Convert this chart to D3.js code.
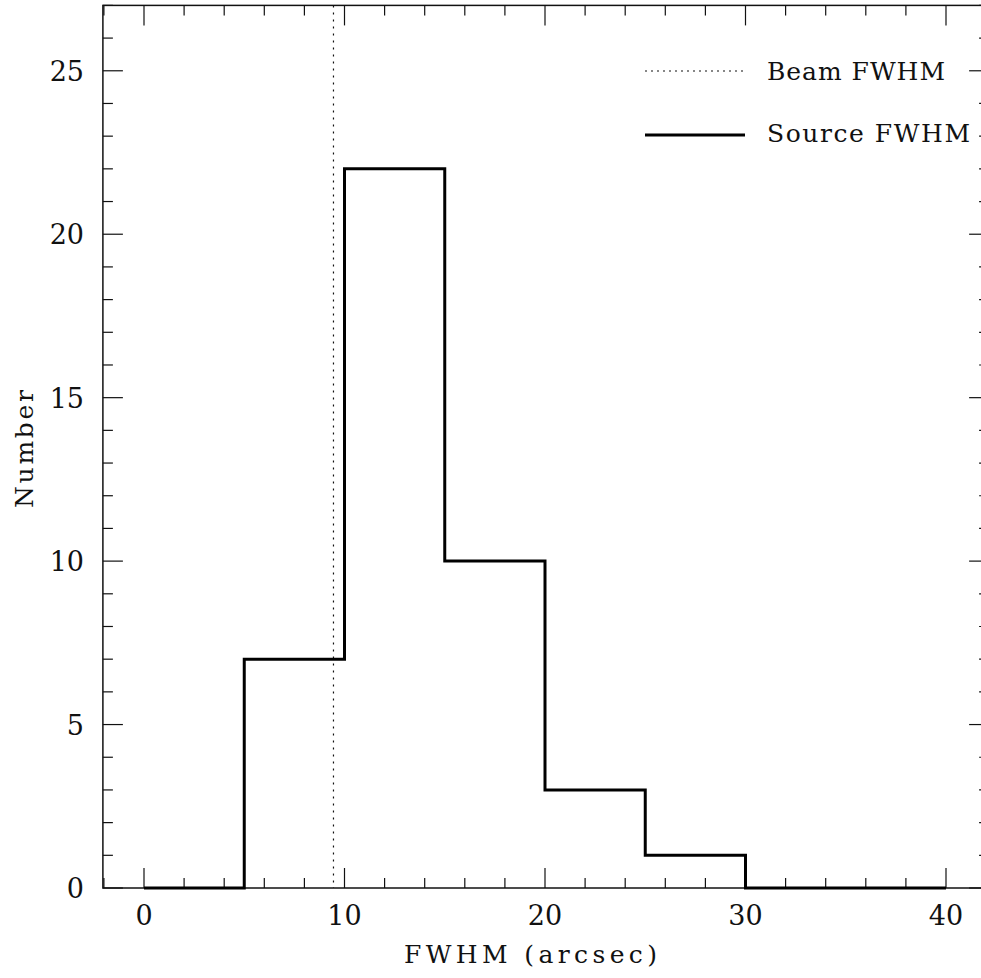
<!DOCTYPE html>
<html><head><meta charset="utf-8">
<script src="https://cdn.jsdelivr.net/npm/d3@7"></script>
<style>body{margin:0;background:#fff}svg{display:block}text{font-family:"DejaVu Serif",serif;fill:#111;font-weight:300}</style>
</head><body>
<script>
const binEdges = [0,5,10,15,20,25,30,35,40];
const counts = [0,7,22,10,3,1,0,0];
const beamFWHM = 9.45;
const xTicks = [0,10,20,30,40];
const yTicks = [0,5,10,15,20,25];
const legendLabels = ["Beam FWHM","Source FWHM"];
const xLabel = "FWHM (arcsec)", yLabel = "Number";

const W=981,H=978;
const svg=d3.select("body").append("svg").attr("width",W).attr("height",H);
const x=d3.scaleLinear().domain([0,40]).range([144,946]);
const y=d3.scaleLinear().domain([0,27]).range([888,5.4]);
const xL=x(-2.05), xR=x(42.15), yB=y(0), yT=y(27);

// frame
svg.append("rect").attr("x",xL).attr("y",yT).attr("width",xR-xL).attr("height",yB-yT)
  .attr("fill","none").attr("stroke","#111").attr("stroke-width",1.5);

const tk=svg.append("g").attr("stroke","#111").attr("stroke-width",1.2);
d3.range(-2,44,2).forEach(v=>{
  if(x(v)<xL||x(v)>xR) return;
  const len = v%10===0?20:10;
  tk.append("line").attr("x1",x(v)).attr("x2",x(v)).attr("y1",yB).attr("y2",yB-len);
  tk.append("line").attr("x1",x(v)).attr("x2",x(v)).attr("y1",yT).attr("y2",yT+len);
});
d3.range(0,28,1).forEach(v=>{
  const len = v%5===0?20:10;
  tk.append("line").attr("y1",y(v)).attr("y2",y(v)).attr("x1",xL).attr("x2",xL+len);
  tk.append("line").attr("y1",y(v)).attr("y2",y(v)).attr("x1",xR).attr("x2",xR-len);
});
// tick labels
svg.append("g").selectAll("text").data(xTicks).join("text")
  .attr("x",d=>x(d)).attr("y",925).attr("text-anchor","middle").attr("font-size",27).text(d=>d);
svg.append("g").selectAll("text").data(yTicks).join("text")
  .attr("x",84).attr("y",d=>y(d)+10).attr("text-anchor","end").attr("font-size",27).text(d=>d);
svg.append("text").attr("x",404).attr("y",963).attr("font-size",25)
  .attr("textLength",253).attr("lengthAdjust","spacing").text(xLabel);
svg.append("text").attr("transform","translate(33,508) rotate(-90)").attr("font-size",25)
  .attr("textLength",118).attr("lengthAdjust","spacing").text(yLabel);

// beam line
svg.append("line").attr("x1",x(beamFWHM)).attr("x2",x(beamFWHM)).attr("y1",yT).attr("y2",yB)
  .attr("stroke","#111").attr("stroke-width",1.2).attr("stroke-dasharray","2,5");

// histogram step
const pts=[];
counts.forEach((c,i)=>{pts.push([binEdges[i],c]);pts.push([binEdges[i+1],c]);});
svg.append("path").datum(pts)
  .attr("d",d3.line().x(d=>x(d[0])).y(d=>y(d[1])))
  .attr("fill","none").attr("stroke","#000").attr("stroke-width",3).attr("stroke-linejoin","miter");

// legend
svg.append("line").attr("x1",645).attr("x2",745).attr("y1",71).attr("y2",71)
  .attr("stroke","#111").attr("stroke-width",1.2).attr("stroke-dasharray","2,4");
svg.append("line").attr("x1",645).attr("x2",745).attr("y1",135).attr("y2",135)
  .attr("stroke","#000").attr("stroke-width",3);
svg.append("text").attr("x",767).attr("y",80).attr("font-size",25)
  .attr("textLength",178).attr("lengthAdjust","spacing").text(legendLabels[0]);
svg.append("text").attr("x",767).attr("y",142).attr("font-size",25)
  .attr("textLength",203).attr("lengthAdjust","spacing").text(legendLabels[1]);
</script>
</body></html>
